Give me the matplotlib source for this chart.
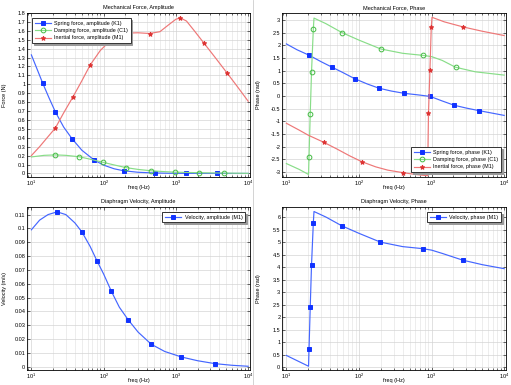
import numpy as np
import matplotlib
matplotlib.use("Agg")
import matplotlib.pyplot as plt
from matplotlib.ticker import LogLocator, MultipleLocator, NullFormatter

# ---- data (freq in Hz) ----
# Mechanical force amplitude (N)
f_spring_amp = [10, 12, 14.4, 17.5, 21.5, 28, 36.5, 50, 74, 100, 140, 189, 300, 507, 800, 1374, 3690, 10000]
spring_amp = [1.33, 1.17, 1.01, 0.85, 0.69, 0.52, 0.39, 0.26, 0.15, 0.093, 0.052, 0.03, 0.013, 0.005, 0.002, 0.001, 0.0, 0.0]
mk_spring_amp = [2, 4, 6, 8, 11, 13, 15, 16]

f_damp_amp = [10, 15, 21.5, 30, 46, 65, 98, 140, 205, 300, 451, 700, 980, 2120, 4570, 10000]
damp_amp = [0.185, 0.203, 0.208, 0.203, 0.187, 0.16, 0.125, 0.095, 0.065, 0.045, 0.03, 0.02, 0.014, 0.008, 0.004, 0.001]
mk_damp_amp = [2, 4, 6, 8, 10, 12, 13, 14]

f_iner_amp = [10, 13, 16.5, 21.5, 28, 37.7, 50, 65.5, 90, 120, 160, 220, 300, 432, 600, 800,
              1000, 1150, 1400, 1800, 2455, 3500, 5070, 7000, 10000]
iner_amp = [0.2, 0.3, 0.4, 0.51, 0.68, 0.86, 1.04, 1.22, 1.38, 1.48, 1.545, 1.575, 1.578, 1.57, 1.59, 1.67,
            1.73, 1.745, 1.71, 1.6, 1.46, 1.3, 1.13, 0.98, 0.81]
mk_iner_amp = [3, 5, 7, 13, 17, 20, 22]

# Mechanical force phase (rad)
f_spring_ph = [10, 14, 20.7, 30, 42.7, 60, 87, 130, 190, 280, 422, 650, 955, 1400, 2050, 3000, 4460, 10000]
spring_ph = [2.05, 1.82, 1.6, 1.35, 1.13, 0.92, 0.68, 0.47, 0.3, 0.19, 0.1, 0.04, -0.02, -0.2, -0.37, -0.48, -0.58, -0.77]
mk_spring_ph = [2, 4, 6, 8, 10, 12, 14, 16]

f_damp_ph = [10, 15, 20.2, 20.5, 21.3, 22.2, 23.5, 24.0, 35, 58, 100, 200, 400, 750, 1000, 1400, 2140, 4000, 10000]
damp_ph = [-2.67, -2.9, -3.1, -2.4, -0.73, 0.96, 2.64, 3.07, 2.85, 2.5, 2.2, 1.85, 1.68, 1.6, 1.55, 1.4, 1.13, 0.95, 0.82]
mk_damp_ph = [3, 4, 5, 6, 9, 11, 13, 16]

f_iner_ph = [10, 15, 20, 32.7, 50, 75, 110, 170, 250, 407, 600, 880, 907, 950, 990, 1014, 1500, 2720, 5000, 10000]
iner_ph = [-1.08, -1.35, -1.55, -1.83, -2.1, -2.37, -2.6, -2.8, -2.93, -3.03, -3.1, -3.15, -0.67, 1.03, 2.72, 3.1,
           2.92, 2.72, 2.55, 2.38]
mk_iner_ph = [3, 6, 9, 12, 13, 14, 17]

# Diaphragm velocity
f_vel = [10, 13, 17, 22.7, 30, 40, 50, 65, 81, 100, 128, 165, 218, 300, 457, 700, 1195, 2000, 3470, 6000, 10000]
vel_amp = [0.099, 0.106, 0.110, 0.112, 0.110, 0.104, 0.0975, 0.087, 0.0765, 0.067, 0.0545, 0.043, 0.034, 0.025,
           0.0162, 0.011, 0.007, 0.0043, 0.0022, 0.001, 0.0003]
mk_vel_amp = [3, 6, 8, 10, 12, 14, 16, 18]

f_vel_ph = [10, 20.2, 20.5, 21.3, 22.2, 23.5, 24.0, 35, 58, 100, 197, 400, 750, 1000, 1400, 2690, 5000, 10000]
vel_ph = [0.48, 0.05, 0.73, 2.4, 4.1, 5.77, 6.22, 6.0, 5.65, 5.35, 5.0, 4.82, 4.74, 4.68, 4.55, 4.28, 4.1, 3.94]
mk_vel_ph = [2, 3, 4, 5, 8, 10, 12, 15]

blue_line, blue_mk = "#4466ff", "#1133ff"
green_line, green_mk = "#88dd88", "#44bb44"
red_line, red_mk = "#ee7777", "#dd3333"

plt.rcParams["font.family"] = ["Liberation Sans", "DejaVu Sans"]
plt.rcParams["mathtext.fontset"] = "custom"
plt.rcParams["mathtext.rm"] = "Liberation Sans"
fig = plt.figure(figsize=(5.11, 3.85), dpi=100)

W, H = 511, 385
def box(l, t, r, b):
    return [l / W, 1 - b / H, (r - l) / W, (b - t) / H]

def style(ax, title, ylabel, ylim, ystep):
    ax.set_xscale("log")
    ax.set_xlim(8.7, 10600)
    ax.set_ylim(*ylim)
    ax.yaxis.set_major_locator(MultipleLocator(ystep))
    ax.yaxis.set_major_formatter(plt.FuncFormatter(lambda v, p: ("%g" % round(v, 4))))
    ax.xaxis.set_major_locator(LogLocator(base=10, numticks=10))
    ax.xaxis.set_minor_locator(LogLocator(base=10, subs=np.arange(2, 10), numticks=20))
    ax.xaxis.set_minor_formatter(NullFormatter())
    ax.grid(True, which="major", color="#d4d4d4", lw=0.5)
    ax.grid(True, which="minor", axis="x", color="#e0e0e0", lw=0.4)
    ax.set_axisbelow(True)
    ax.tick_params(which="both", direction="in", top=True, right=True, labelsize=4.0,
                   length=2, width=0.4, pad=1.2)
    ax.tick_params(which="minor", length=1.2)
    for s in ax.spines.values():
        s.set_linewidth(0.6)
    ax.set_title(title, fontsize=4.0, pad=2.8)
    ax.set_xlabel("freq (Hz)", fontsize=4.0)
    ax.xaxis.set_label_coords(0.5, -0.062)
    ax.xaxis.label.set_va("center")
    ax.set_ylabel(ylabel, fontsize=4.0)
    ax.yaxis.set_label_coords(-0.103, 0.5)
    ax.yaxis.label.set_va("center")

def curve(ax, f, y, mk, lc, mc, marker, label, filled=True):
    ax.plot(f, y, color=lc, lw=0.85, marker=marker, markevery=mk, ms=3.4,
            mfc=mc if filled else "none", mec=mc, mew=0.7, label=label)

def legend(ax, loc):
    lg = ax.legend(loc=loc, fontsize=3.9, fancybox=False, edgecolor="#333333", framealpha=1,
                   borderpad=0.5, handlelength=3.0, labelspacing=0.45, borderaxespad=0.9,
                   handletextpad=0.6,
                   shadow={"ox": 1.2, "oy": -1.2, "color": "#999999", "alpha": 1})
    lg.get_frame().set_linewidth(0.7)

ax1 = fig.add_axes(box(27, 13, 250, 177))
curve(ax1, f_spring_amp, spring_amp, mk_spring_amp, blue_line, blue_mk, "s", "Spring force, amplitude (K1)")
curve(ax1, f_damp_amp, damp_amp, mk_damp_amp, green_line, green_mk, "o", "Damping force, amplitude (C1)", False)
curve(ax1, f_iner_amp, iner_amp, mk_iner_amp, red_line, red_mk, "*", "Inertial force, amplitude (M1)")
style(ax1, "Mechanical Force, Amplitude", "Force (N)", (-0.04, 1.8), 0.1)
legend(ax1, "upper left")

ax2 = fig.add_axes(box(282, 13, 506, 177))
curve(ax2, f_spring_ph, spring_ph, mk_spring_ph, blue_line, blue_mk, "s", "Spring force, phase (K1)")
curve(ax2, f_damp_ph, damp_ph, mk_damp_ph, green_line, green_mk, "o", "Damping force, phase (C1)", False)
curve(ax2, f_iner_ph, iner_ph, mk_iner_ph, red_line, red_mk, "*", "Inertial force, phase (M1)")
style(ax2, "Mechanical Force, Phase", "Phase (rad)", (-3.2, 3.27), 0.5)
legend(ax2, "lower right")

ax3 = fig.add_axes(box(27, 207, 250, 370))
curve(ax3, f_vel, vel_amp, mk_vel_amp, blue_line, blue_mk, "s", "Velocity, amplitude (M1)")
style(ax3, "Diaphragm Velocity, Amplitude", "Velocity (m/s)", (-0.0024, 0.1155), 0.01)
legend(ax3, "upper right")

ax4 = fig.add_axes(box(282, 207, 506, 370))
curve(ax4, f_vel_ph, vel_ph, mk_vel_ph, blue_line, blue_mk, "s", "Velocity, phase (M1)")
style(ax4, "Diaphragm Velocity, Phase", "Phase (rad)", (-0.1, 6.4), 0.5)
legend(ax4, "upper right")

fig.add_artist(plt.Line2D([253 / W, 253 / W], [0, 1], color="#cccccc", lw=0.6))

fig.savefig("out.png", dpi=100)
